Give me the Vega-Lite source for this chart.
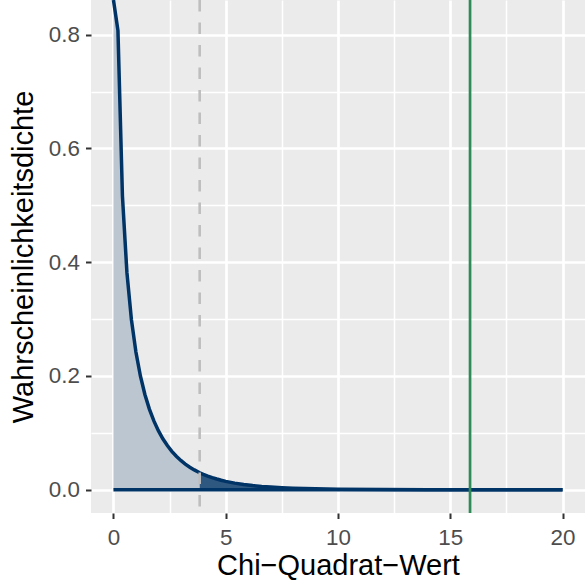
{
  "$schema": "https://vega.github.io/schema/vega-lite/v6.json",
  "width": 494,
  "height": 513,
  "autosize": {"type": "none"},
  "padding": {"left": 91, "top": 0, "right": 0, "bottom": 67},
  "background": "white",
  "config": {
    "view": {"fill": "#EBEBEB", "stroke": null},
    "font": "Liberation Sans"
  },
  "datasets": {
    "dichte": [
      {"x": 0, "y": 0.861},
      {"x": 0.2, "y": 0.8072},
      {"x": 0.4, "y": 0.5164},
      {"x": 0.6, "y": 0.3815},
      {"x": 0.8, "y": 0.299},
      {"x": 1.0, "y": 0.242},
      {"x": 1.2, "y": 0.1999},
      {"x": 1.4, "y": 0.1674},
      {"x": 1.6, "y": 0.1417},
      {"x": 1.8, "y": 0.1209},
      {"x": 2.0, "y": 0.1038},
      {"x": 2.2, "y": 0.0895},
      {"x": 2.4, "y": 0.0776},
      {"x": 2.6, "y": 0.0674},
      {"x": 2.8, "y": 0.0588},
      {"x": 3.0, "y": 0.0514},
      {"x": 3.2, "y": 0.045},
      {"x": 3.4, "y": 0.0395},
      {"x": 3.6, "y": 0.0348},
      {"x": 3.8, "y": 0.0306},
      {"x": 3.84, "y": 0.0298},
      {"x": 4.0, "y": 0.027},
      {"x": 4.2, "y": 0.0238},
      {"x": 4.4, "y": 0.0211},
      {"x": 4.6, "y": 0.0187},
      {"x": 4.8, "y": 0.0165},
      {"x": 5.0, "y": 0.0146},
      {"x": 5.4, "y": 0.0115},
      {"x": 5.8, "y": 0.0091},
      {"x": 6.2, "y": 0.0072},
      {"x": 6.6, "y": 0.0057},
      {"x": 7.0, "y": 0.0046},
      {"x": 7.5, "y": 0.0034},
      {"x": 8.0, "y": 0.0026},
      {"x": 9.0, "y": 0.0015},
      {"x": 10.0, "y": 0.0009},
      {"x": 12.0, "y": 0.0003},
      {"x": 14.0, "y": 0.0001},
      {"x": 16.0, "y": 0.00003},
      {"x": 18.0, "y": 0.00001},
      {"x": 20.0, "y": 0.000004}
    ],
    "basislinie": [{"x": 0, "x2": 20}],
    "kritisch": [{"x": 3.84}],
    "beobachtet": [{"x": 15.88}]
  },
  "encoding": {
    "x": {
      "field": "x",
      "type": "quantitative",
      "scale": {"domain": [-1, 21], "nice": false, "zero": false},
      "axis": {
        "title": "Chi−Quadrat−Wert",
        "values": [0, 2.5, 5, 7.5, 10, 12.5, 15, 17.5, 20],
        "labelExpr": "datum.value % 5 === 0 ? format(datum.value, 'd') : ''",
        "domain": false,
        "grid": true,
        "gridColor": "#FFFFFF",
        "gridWidth": {"condition": {"test": "datum.value % 5 !== 0", "value": 1.5}, "value": 2.7},
        "tickColor": "#333333",
        "tickSize": 5.5,
        "tickWidth": 2,
        "tickOpacity": {"condition": {"test": "datum.value % 5 !== 0", "value": 0}, "value": 1},
        "labelColor": "#4D4D4D",
        "labelFontSize": 22.4,
        "labelFont": "Liberation Sans",
        "labelFlush": false,
        "labelOverlap": false,
        "labelBaseline": "alphabetic",
        "labelPadding": 25.5,
        "titleFont": "Liberation Sans",
        "titleFontSize": 29,
        "titleFontWeight": "normal",
        "titleColor": "#000000",
        "titleX": 247,
        "titleY": 61.5,
        "titleBaseline": "alphabetic",
        "titleAlign": "center"
      }
    }
  },
  "layer": [
    {
      "data": {"name": "dichte"},
      "transform": [{"filter": "datum.x <= 3.84"}],
      "mark": {"type": "area", "color": "#BCC6D0", "clip": true},
      "encoding": {
        "y": {
          "field": "y",
          "type": "quantitative",
          "scale": {"domain": [-0.041, 0.861], "nice": false, "zero": false},
          "axis": {
            "title": "Wahrscheinlichkeitsdichte",
            "values": [0, 0.1, 0.2, 0.3, 0.4, 0.5, 0.6, 0.7, 0.8],
            "labelExpr": "round(datum.value * 10) % 2 === 0 ? format(datum.value, '.1f') : ''",
            "domain": false,
            "grid": true,
            "gridColor": "#FFFFFF",
            "gridWidth": {"condition": {"test": "round(datum.value * 10) % 2 === 1", "value": 1.5}, "value": 2.7},
            "tickColor": "#333333",
            "tickSize": 5.5,
            "tickWidth": 2,
            "tickOpacity": {"condition": {"test": "round(datum.value * 10) % 2 === 1", "value": 0}, "value": 1},
            "labelColor": "#4D4D4D",
            "labelFontSize": 22.4,
            "labelFont": "Liberation Sans",
            "labelFlush": false,
            "labelOverlap": false,
            "labelPadding": 6,
            "titleFont": "Liberation Sans",
            "titleFontSize": 29,
            "titleFontWeight": "normal",
            "titleColor": "#000000",
            "titleAngle": -90,
            "titleX": -59,
            "titleY": 256.5,
            "titleBaseline": "alphabetic",
            "titleAlign": "center"
          }
        },
        "y2": {"datum": 0}
      }
    },
    {
      "data": {"name": "dichte"},
      "transform": [{"filter": "datum.x >= 3.84"}],
      "mark": {"type": "area", "color": "#2F5881", "clip": true},
      "encoding": {
        "y": {"field": "y", "type": "quantitative", "scale": {"domain": [-0.041, 0.861], "nice": false, "zero": false}, "title": "Wahrscheinlichkeitsdichte"},
        "y2": {"datum": 0}
      }
    },
    {
      "data": {"name": "dichte"},
      "mark": {"type": "line", "color": "#003366", "strokeWidth": 3.5, "clip": true},
      "encoding": {
        "y": {"field": "y", "type": "quantitative", "scale": {"domain": [-0.041, 0.861], "nice": false, "zero": false}, "title": "Wahrscheinlichkeitsdichte"}
      }
    },
    {
      "data": {"name": "basislinie"},
      "mark": {"type": "rule", "color": "#003366", "strokeWidth": 3.5},
      "encoding": {
        "x2": {"field": "x2"},
        "y": {"datum": 0, "type": "quantitative", "scale": {"domain": [-0.041, 0.861], "nice": false, "zero": false}, "title": "Wahrscheinlichkeitsdichte"}
      }
    },
    {
      "data": {"name": "kritisch"},
      "mark": {"type": "rule", "color": "#BEBEBE", "strokeWidth": 2.6, "strokeDash": [11.5, 11]}
    },
    {
      "data": {"name": "beobachtet"},
      "mark": {"type": "rule", "color": "#2E8B57", "strokeWidth": 2.7}
    }
  ]
}
